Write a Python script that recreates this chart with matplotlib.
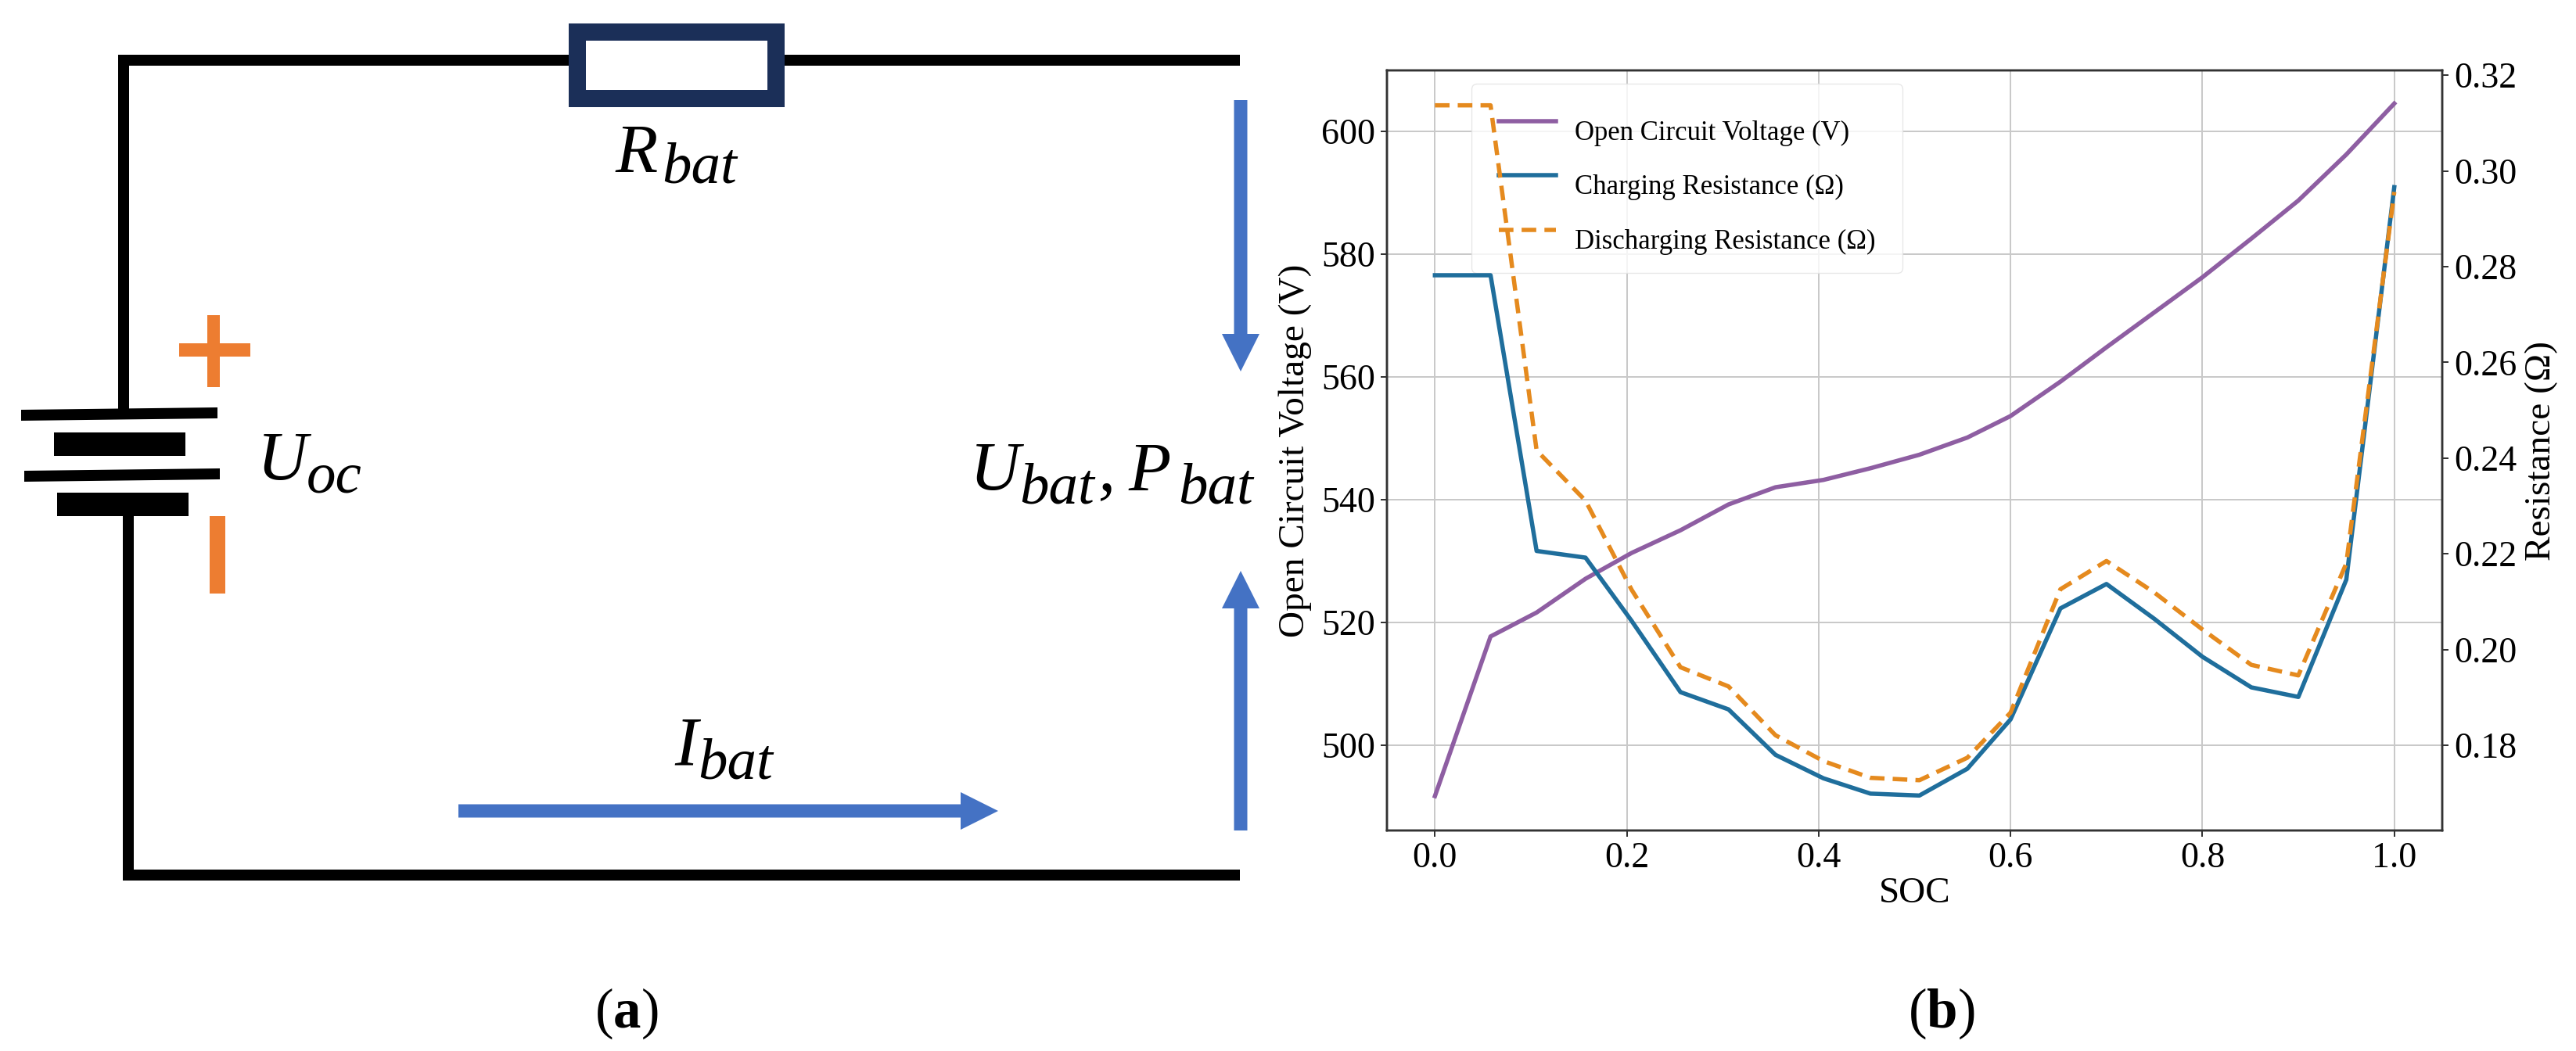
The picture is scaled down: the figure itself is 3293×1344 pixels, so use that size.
import matplotlib
matplotlib.use('Agg')
import matplotlib.pyplot as plt
from matplotlib.patches import Rectangle, Polygon, FancyArrow

plt.rcParams['font.family'] = ['Liberation Serif', 'DejaVu Serif']
plt.rcParams['mathtext.fontset'] = 'custom'
plt.rcParams['mathtext.rm'] = 'Liberation Serif'
plt.rcParams['mathtext.it'] = 'Liberation Serif:italic'
plt.rcParams['mathtext.bf'] = 'Liberation Serif:bold'

W, H = 3293, 1344
PX = 0.72  # one pixel in points at dpi 100

soc = [0.0, 0.058, 0.106, 0.157, 0.205, 0.256, 0.306, 0.355, 0.405, 0.454, 0.505,
       0.555, 0.6, 0.652, 0.7, 0.75, 0.8, 0.851, 0.9, 0.95, 1.0]
ocv = [491.7, 517.7, 521.6, 527.1, 531.3, 535.0, 539.2, 542.0, 543.2, 545.1, 547.3,
       550.1, 553.6, 559.2, 564.8, 570.5, 576.2, 582.5, 588.7, 596.2, 604.5]
r_charge = [0.2782, 0.2782, 0.2206, 0.2192, 0.206, 0.1911, 0.1875, 0.178, 0.1731, 0.1699, 0.1695,
            0.1751, 0.1854, 0.2086, 0.2137, 0.2064, 0.1985, 0.1921, 0.1901, 0.2146, 0.2966]
r_discharge = [0.3137, 0.3137, 0.2416, 0.2311, 0.2125, 0.1963, 0.1923, 0.1821, 0.1767, 0.1732, 0.1727,
               0.1774, 0.1868, 0.2126, 0.2185, 0.2119, 0.2042, 0.1968, 0.1946, 0.218, 0.2956]
x_ticks = [0.0, 0.2, 0.4, 0.6, 0.8, 1.0]
v_ticks = [500, 520, 540, 560, 580, 600]
r_ticks = [0.18, 0.20, 0.22, 0.24, 0.26, 0.28, 0.30, 0.32]

NAVY = '#1b2f58'
ORANGE = '#ed7d31'
BLUE = '#4472c4'
PURPLE = '#8e5ea2'
TEAL = '#1f6e9c'
AMBER = '#e58a1e'

fig = plt.figure(figsize=(W / 100, H / 100), dpi=100)

# panel (a): circuit drawn on a canvas in pixel coordinates
cv = fig.add_axes([0, 0, 1, 1])
cv.set_xlim(0, W)
cv.set_ylim(H, 0)
cv.axis('off')


def wire(xs, ys, width=14, color='black'):
    cv.plot(xs, ys, color=color, lw=width * PX, solid_capstyle='butt', solid_joinstyle='miter')


def math_label(x, y, s, size=64):
    cv.text(x, y, s, fontsize=size, style='italic', ha='left', va='baseline')


wire([158, 158, 727], [523, 77, 77])
wire([1003, 1585], [77, 77])
wire([164, 164, 1585], [660, 1119, 1119])
cv.add_patch(Rectangle((738, 41), 254, 85, fc='white', ec=NAVY, lw=22 * PX, joinstyle='miter'))

# battery plates
cv.add_patch(Polygon([(27, 524), (278, 521), (278, 535), (27, 538)], fc='black', ec='none'))
cv.add_patch(Polygon([(31, 602), (281, 599), (281, 613), (31, 616)], fc='black', ec='none'))
cv.add_patch(Rectangle((69, 553), 168, 30, fc='black', ec='none'))
cv.add_patch(Rectangle((73, 630), 168, 30, fc='black', ec='none'))

# plus and minus
cv.add_patch(Rectangle((229, 439), 91, 17, fc=ORANGE, ec='none'))
cv.add_patch(Rectangle((265, 403), 16, 92, fc=ORANGE, ec='none'))
cv.add_patch(Rectangle((268, 660), 20, 99, fc=ORANGE, ec='none'))

# blue arrows
for x0, y0, dx, dy in [(1586, 128, 0, 347), (1586, 1062, 0, -332), (586, 1037, 690, 0)]:
    cv.add_patch(FancyArrow(x0, y0, dx, dy, width=17, head_width=48, head_length=48,
                            length_includes_head=True, fc=BLUE, ec='none'))

# symbols, base letter and subscript set apart as in the original
math_label(786, 219, 'R')
math_label(846, 233, 'bat', 54)
math_label(329, 613, 'U')
math_label(392, 630, 'oc', 54)
math_label(1240, 626, 'U')
math_label(1303, 643, 'bat', 54)
math_label(1403, 626, ',')
math_label(1442, 626, 'P')
math_label(1506, 643, 'bat', 54)
math_label(862, 977, 'I')
math_label(892, 996, 'bat', 54)
cv.text(801, 1296, r'($\mathbf{a}$)', fontsize=51, ha='center', va='center')
cv.text(2482, 1296, r'($\mathbf{b}$)', fontsize=51, ha='center', va='center')

# panel (b)
left, right, top, bottom = 1773, 3122, 90, 1062
ax = fig.add_axes([left / W, (H - bottom) / H, (right - left) / W, (bottom - top) / H])
ax2 = ax.twinx()

line1, = ax.plot(soc, ocv, color=PURPLE, lw=5.5 * PX, label='Open Circuit Voltage (V)')
line2, = ax2.plot(soc, r_charge, color=TEAL, lw=5.5 * PX, label='Charging Resistance (Ω)')
line3, = ax2.plot(soc, r_discharge, color=AMBER, lw=5.5 * PX, dashes=(3.4, 1.9),
                  label='Discharging Resistance (Ω)')

ax.set_xlim(-0.05, 1.05)
ax.set_ylim(486.1, 609.9)
ax2.set_ylim(0.1622, 0.321)
ax.set_xticks(x_ticks)
ax.set_yticks(v_ticks)
ax2.set_yticks(r_ticks)
ax2.set_yticklabels([f'{t:.2f}' for t in r_ticks])
ax.grid(True, color='#c9c9c9', lw=2 * PX)
ax.set_axisbelow(True)

for a in (ax, ax2):
    a.tick_params(labelsize=33, length=8 * PX, width=2 * PX, color='#333333', pad=5)
    for s in a.spines.values():
        s.set_color('#333333')
        s.set_linewidth(2.5 * PX)

ax.set_xlabel('SOC', fontsize=34)
ax.xaxis.set_label_coords((2448 - left) / (right - left), -(1143 - bottom) / (bottom - top), )
ax.xaxis.label.set_va('center')
ax.set_ylabel('Open Circuit Voltage (V)', fontsize=34)
ax.yaxis.set_label_coords((1656 - left) / (right - left), 0.5)
ax.yaxis.label.set_va('center')
ax2.set_ylabel('Resistance (Ω)', fontsize=34)
ax2.yaxis.set_label_coords((3249 - left) / (right - left), 0.5)
ax2.yaxis.label.set_va('center')

leg = ax.legend([line1, line2, line3], [line1.get_label(), line2.get_label(), line3.get_label()],
                loc='upper left', bbox_to_anchor=(1881 / W, (H - 107) / H), bbox_transform=fig.transFigure,
                borderaxespad=0, fontsize=25, labelspacing=1.05, handlelength=2.1, handletextpad=0.7,
                borderpad=1.0, framealpha=0.8, edgecolor='#e2e2e2', fancybox=True)
# labels sit a little below their handles in the original
for t in leg.get_texts():
    t.set_y(-12)

fig.savefig('out.png', dpi=100)
